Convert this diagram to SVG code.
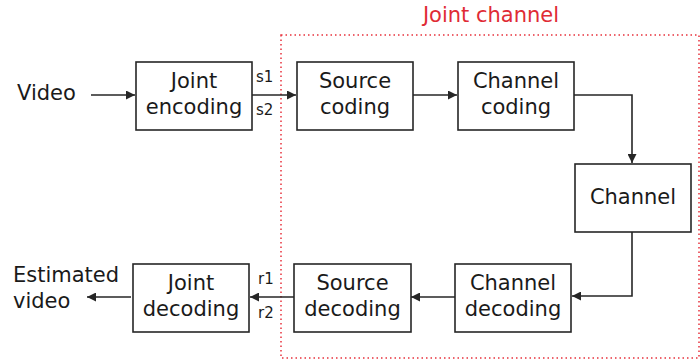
<svg xmlns="http://www.w3.org/2000/svg" width="700" height="362" viewBox="0 0 700 362">
<style>
.box{fill:#fff;stroke:#262626;stroke-width:1.6}
.t{font-family:"DejaVu Sans",sans-serif;font-size:21px;fill:#1a1a1a;text-anchor:middle}
.l{font-family:"DejaVu Sans",sans-serif;font-size:21px;fill:#1a1a1a}
.s{font-family:"DejaVu Sans",sans-serif;font-size:15px;fill:#1a1a1a}
.c{fill:none;stroke:#262626;stroke-width:1.6}
</style>
<defs>
<marker id="ah" viewBox="0 0 10 10" refX="10" refY="5" markerWidth="9" markerHeight="9" markerUnits="userSpaceOnUse" orient="auto">
<path d="M0,0 L10,5 L0,10 z" fill="#262626"/>
</marker>
</defs>
<rect x="281" y="35" width="418" height="323" fill="none" stroke="#e8323c" stroke-width="1.5" stroke-dasharray="1.5,3"/>
<text x="491" y="22" class="t" style="fill:#e02b35">Joint channel</text>
<text x="17" y="100" class="l">Video</text>
<text x="13" y="282" class="l">Estimated</text>
<text x="13" y="308" class="l">video</text>
<g id="connectors">
<path class="c" d="M91,95 H135" marker-end="url(#ah)"/>
<path class="c" d="M252,95 H296" marker-end="url(#ah)"/>
<path class="c" d="M413,95 H457" marker-end="url(#ah)"/>
<path class="c" d="M574,95 H632 V163" marker-end="url(#ah)"/>
<path class="c" d="M632,232 V296 H572" marker-end="url(#ah)"/>
<path class="c" d="M455,297 H411" marker-end="url(#ah)"/>
<path class="c" d="M294,297 H250" marker-end="url(#ah)"/>
<path class="c" d="M131,297 H87" marker-end="url(#ah)"/>
<text x="256" y="82" class="s">s1</text>
<text x="256" y="115" class="s">s2</text>
<text x="258" y="284" class="s">r1</text>
<text x="258" y="318" class="s">r2</text>
</g>
<g id="joint-encoding"><rect class="box" x="136" y="62" width="116" height="68"/><text x="194" y="88" class="t">Joint</text><text x="194" y="114" class="t">encoding</text></g>
<g id="source-coding"><rect class="box" x="297" y="62" width="116" height="68"/><text x="355" y="88" class="t">Source</text><text x="355" y="114" class="t">coding</text></g>
<g id="channel-coding"><rect class="box" x="458" y="62" width="116" height="68"/><text x="516" y="88" class="t">Channel</text><text x="516" y="114" class="t">coding</text></g>
<g id="channel"><rect class="box" x="575" y="164" width="116" height="68"/><text x="633" y="204" class="t">Channel</text></g>
<g id="channel-decoding"><rect class="box" x="455" y="264" width="116" height="68"/><text x="513" y="290" class="t">Channel</text><text x="513" y="316" class="t">decoding</text></g>
<g id="source-decoding"><rect class="box" x="294" y="264" width="117" height="68"/><text x="352.5" y="290" class="t">Source</text><text x="352.5" y="316" class="t">decoding</text></g>
<g id="joint-decoding"><rect class="box" x="133" y="264" width="116" height="68"/><text x="191" y="290" class="t">Joint</text><text x="191" y="316" class="t">decoding</text></g>
</svg>
